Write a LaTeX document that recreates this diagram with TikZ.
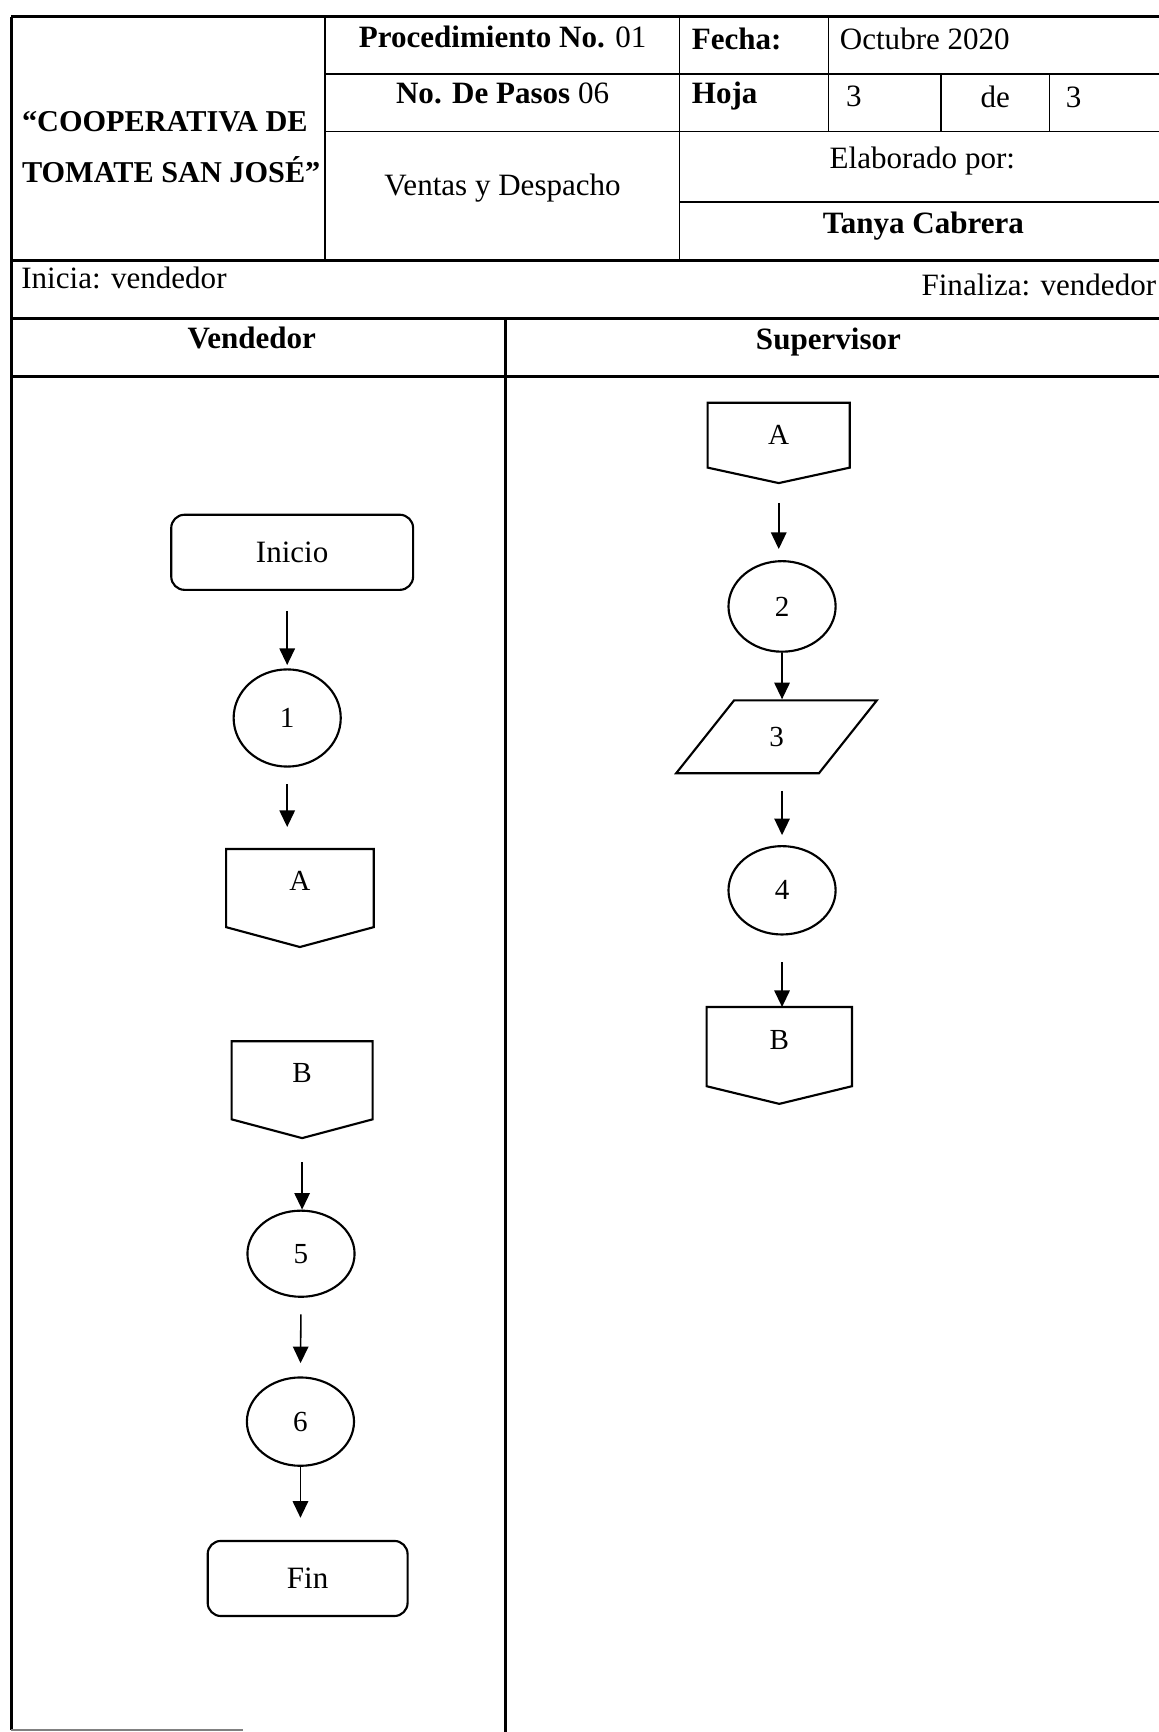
\documentclass[tikz,border=0pt]{standalone}
\usepackage{fontspec}
\setmainfont{Liberation Serif}
\usepackage{tikz}
\usetikzlibrary{shapes.geometric, positioning, arrows.meta, calc}
\tikzstyle{borderline} = [line width=1.5pt]
\tikzstyle{tableline} = [line width=0.8pt]
\tikzstyle{shapeline} = [line width=1.1pt]
\tikzstyle{cell} = [inner sep=0pt,
font=\fontsize{16}{19}\selectfont]
\tikzstyle{terminal} = [draw, rectangle, rounded corners=0.24cm,
line width=1.1pt, minimum height=1.36cm,
font=\fontsize{16}{19}\selectfont]
\tikzstyle{activity} = [draw, ellipse, line width=1.1pt,
minimum width=1.94cm, minimum height=1.6cm, inner sep=0pt,
font=\fontsize{15}{18}\selectfont]
\tikzstyle{offpage} = [rectangle, minimum height=1.4cm,
text depth=0.25cm, inner sep=0pt,
font=\fontsize{15}{18}\selectfont]
\tikzstyle{datastep} = [draw, trapezium, trapezium left angle=60,
trapezium right angle=120, trapezium stretches=true,
minimum width=3.64cm, minimum height=1.32cm, line width=1.1pt,
font=\fontsize{15}{18}\selectfont]
\tikzstyle{flowarrow} = [-{Triangle[length=0.3cm, width=0.28cm]},
line width=0.8pt]

\begin{document}
\begin{tikzpicture}[x=0.02cm, y=-0.02cm]
	\useasboundingbox (0,0) rectangle (1049,1568);
	%% Table frame
	\draw[borderline] (10,15) -- (1049,15);
	\draw[borderline] (10,15) -- (10,1566);
	\draw[tableline] (294,15) -- (294,236);
	\draw[tableline] (615,15) -- (615,236);
	\draw[tableline] (750,15) -- (750,119);
	\draw[tableline] (852,67) -- (852,119);
	\draw[tableline] (950,67) -- (950,119);
	\draw[tableline] (294,67) -- (1049,67);
	\draw[tableline] (294,119) -- (1049,119);
	\draw[tableline] (615,183) -- (1049,183);
	\draw[borderline] (10,236) -- (1049,236);
	\draw[borderline] (10,288) -- (1049,288);
	\draw[borderline] (10,341) -- (1049,341);
	\draw[borderline] (458,288) -- (458,1568);
	\draw[tableline, gray] (10,1566) -- (220,1566);
	%% Header texts
	\node[cell, align=left, font=\fontsize{15.6}{26}\selectfont\bfseries] (empresa) at (155,133)
		{“COOPERATIVA DE\\TOMATE SAN JOSÉ”};
	\node[cell] (proc) at (455,33) {\textbf{Procedimiento No.} 01};
	\node[cell] (pasos) at (455,85) {\textbf{No. De Pasos} 06};
	\node[cell] (area) at (455,170) {Ventas y Despacho};
	\node[cell, anchor=west] (fecha) at (626,35) {\textbf{Fecha:}};
	\node[cell, anchor=west] (mes) at (760,35) {Octubre 2020};
	\node[cell, anchor=west] (hoja) at (626,87) {\textbf{Hoja}};
	\node[cell] (hojaNum) at (773,87) {3};
	\node[cell] (de) at (901,88) {de};
	\node[cell] (hojaTotal) at (972,88) {3};
	\node[cell] (elab) at (835,146) {Elaborado por:};
	\node[cell] (autor) at (836,205) {\textbf{Tanya Cabrera}};
	\node[cell, anchor=west] (inicia) at (19,252) {Inicia: vendedor};
	\node[cell, anchor=east] (finaliza) at (1047,258) {Finaliza: vendedor};
	\node[cell] (laneVend) at (228,306) {\textbf{Vendedor}};
	\node[cell] (laneSup) at (750,310) {\textbf{Supervisor}};
	%% Vendedor lane
	\node[terminal, minimum width=4.38cm] (inicio) at (264.5,500) {Inicio};
	\node[activity, minimum height=1.76cm] (act1) at (260,650) {1};
	\node[offpage, minimum width=2.66cm] (conA) at (271.5,804) {A};
	\node[offpage, minimum width=2.54cm] (conB) at (273.5,978) {B};
	\node[activity, minimum height=1.56cm] (act5) at (272.5,1135) {5};
	\node[activity] (act6) at (272,1287) {6};
	\node[terminal, minimum width=3.62cm] (fin) at (278.5,1429) {Fin};
	%% Supervisor lane
	\node[offpage, minimum width=2.56cm, minimum height=1.16cm, text depth=0pt] (conA2) at (705,394) {A};
	\node[activity, minimum height=1.64cm] (act2) at (708,549) {2};
	\node[datastep] (dat3) at (703,667) {3};
	\node[activity] (act4) at (708,806) {4};
	\node[offpage, minimum width=2.62cm, minimum height=1.42cm] (conB2) at (705.5,947.5) {B};
	%% Off-page connectors
	\foreach \c/\tip in {conA/0.36cm, conB/0.34cm, conA2/0.28cm, conB2/0.32cm}{
		\draw[shapeline] (\c.north west) -- (\c.north east) -- (\c.south east)
			-- ([yshift=-\tip]\c.south) -- (\c.south west) -- cycle;
		\coordinate (\c-tip) at ([yshift=-\tip]\c.south);
	}
	%% Vendedor arrows
	\draw[flowarrow, shorten <=0.36cm, shorten >=0.06cm] (inicio.south -| act1) -- (act1.north);
	\draw[flowarrow, shorten <=0.3cm, shorten >=0.4cm] (act1.south) -- (act1.south |- conA.north);
	\draw[flowarrow, shorten <=0.44cm] (conB-tip) -- (conB-tip |- act5.north);
	\draw[flowarrow, shorten <=0.3cm, shorten >=0.24cm] (act5.south) -- (act6.north);
	\draw[flowarrow, shorten >=0.4cm] (act6.south) -- (act6.south |- fin.north);
	%% Supervisor arrows
	\draw[flowarrow, shorten <=0.36cm, shorten >=0.2cm] (conA2-tip) -- (conA2-tip |- act2.north);
	\draw[flowarrow] (act2.south) -- (act2.south |- dat3.north);
	\draw[flowarrow, shorten <=0.3cm, shorten >=0.18cm] (dat3.south -| act4) -- (act4.north);
	\draw[flowarrow, shorten <=0.48cm] (act4.south) -- (act4.south |- conB2.north);
\end{tikzpicture}
\end{document}
